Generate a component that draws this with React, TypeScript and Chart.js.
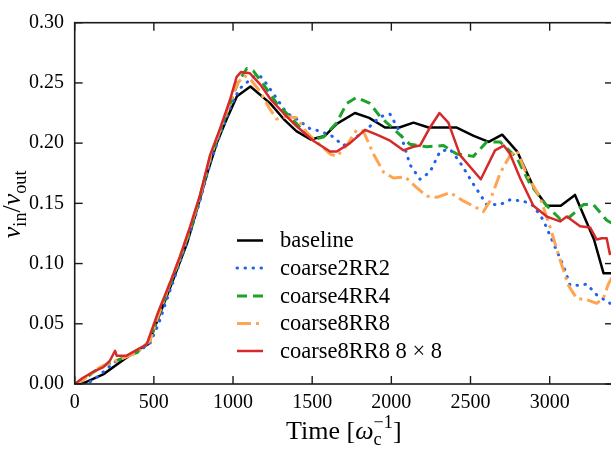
import { useEffect, useRef } from "react";
import { Chart, registerables } from "chart.js";

Chart.register(...registerables);

const SERIF = '"Liberation Serif", "Times New Roman", serif';

// Axis ticks
const X_TICKS = [0, 500, 1000, 1500, 2000, 2500, 3000];
const Y_TICKS = [0, 0.05, 0.1, 0.15, 0.2, 0.25, 0.3];
const X_MAX = 3400;
const Y_MAX = 0.3;

// Series: time [1/omega_c] and v_in / v_out
const baselineT = [0, 60, 180, 370, 465, 520, 600, 710, 770, 835, 900, 960, 1025, 1110, 1235, 1320, 1400, 1490, 1580, 1655, 1770, 1860, 1960, 2050, 2140, 2235, 2410, 2520, 2615, 2700, 2795, 2900, 2980, 3070, 3160, 3280, 3340, 3400];
const baselineV = [0, 0.001, 0.008, 0.026, 0.033, 0.052, 0.079, 0.117, 0.144, 0.174, 0.201, 0.22, 0.239, 0.247, 0.233, 0.22, 0.21, 0.203, 0.206, 0.216, 0.225, 0.221, 0.213, 0.213, 0.217, 0.213, 0.213, 0.206, 0.201, 0.207, 0.193, 0.163, 0.148, 0.148, 0.157, 0.12, 0.092, 0.092];

const coarse2T = [0, 60, 117, 265, 392, 476, 530, 600, 665, 730, 792, 855, 918, 981, 1040, 1128, 1170, 1213, 1276, 1339, 1402, 1486, 1549, 1623, 1697, 1760, 1865, 1929, 1992, 2055, 2118, 2181, 2244, 2307, 2371, 2434, 2518, 2602, 2687, 2750, 2834, 2897, 2960, 3023, 3087, 3129, 3192, 3234, 3297, 3381, 3400];
const coarse2V = [0, 0, 0.003, 0.0195, 0.026, 0.034, 0.05, 0.077, 0.101, 0.126, 0.152, 0.183, 0.207, 0.229, 0.245, 0.255, 0.256, 0.249, 0.237, 0.225, 0.22, 0.212, 0.21, 0.206, 0.198, 0.203, 0.214, 0.222, 0.224, 0.209, 0.182, 0.17, 0.176, 0.193, 0.195, 0.184, 0.166, 0.149, 0.149, 0.153, 0.152, 0.148, 0.136, 0.117, 0.098, 0.082, 0.082, 0.083, 0.074, 0.067, 0.067];

const coarse4T = [0, 50, 160, 265, 392, 476, 530, 600, 665, 730, 790, 855, 918, 980, 1030, 1087, 1128, 1191, 1276, 1360, 1444, 1507, 1570, 1655, 1718, 1781, 1865, 1929, 2013, 2118, 2224, 2329, 2413, 2518, 2602, 2687, 2792, 2876, 2982, 3066, 3129, 3213, 3276, 3360, 3400];
const coarse4V = [0, 0.003, 0.014, 0.0195, 0.026, 0.036, 0.057, 0.082, 0.104, 0.128, 0.155, 0.187, 0.21, 0.232, 0.25, 0.262, 0.26, 0.249, 0.233, 0.222, 0.21, 0.203, 0.205, 0.217, 0.233, 0.238, 0.233, 0.222, 0.212, 0.199, 0.197, 0.198, 0.191, 0.189, 0.201, 0.201, 0.188, 0.166, 0.148, 0.137, 0.139, 0.149, 0.149, 0.136, 0.133];

const coarse8T = [0, 50, 160, 265, 392, 476, 530, 600, 665, 730, 792, 855, 918, 981, 1030, 1070, 1107, 1170, 1234, 1276, 1339, 1402, 1465, 1528, 1613, 1655, 1718, 1781, 1823, 1887, 1950, 2013, 2087, 2160, 2224, 2287, 2371, 2455, 2529, 2581, 2623, 2687, 2750, 2792, 2855, 2939, 3003, 3066, 3118, 3171, 3234, 3297, 3339, 3371, 3400];
const coarse8V = [0, 0.003, 0.014, 0.0195, 0.026, 0.036, 0.058, 0.083, 0.105, 0.13, 0.156, 0.188, 0.211, 0.234, 0.25, 0.256, 0.2535, 0.243, 0.228, 0.22, 0.222, 0.221, 0.209, 0.201, 0.191, 0.189, 0.198, 0.211, 0.21, 0.191, 0.176, 0.171, 0.172, 0.163, 0.156, 0.155, 0.159, 0.152, 0.147, 0.143, 0.152, 0.175, 0.19, 0.194, 0.174, 0.155, 0.13, 0.103, 0.082, 0.071, 0.07, 0.067, 0.071, 0.083, 0.09];

const coarse8x8T = [0, 50, 117, 181, 223, 255, 265, 328, 455, 528, 602, 665, 730, 792, 855, 918, 981, 1023, 1050, 1107, 1170, 1234, 1318, 1402, 1507, 1613, 1655, 1739, 1834, 1908, 1992, 2076, 2139, 2181, 2244, 2304, 2360, 2434, 2565, 2655, 2710, 2750, 2813, 2897, 2982, 3066, 3108, 3192, 3255, 3297, 3329, 3360, 3380, 3400];
const coarse8x8V = [0, 0.005, 0.01, 0.014, 0.0195, 0.0276, 0.0235, 0.0235, 0.033, 0.06, 0.084, 0.106, 0.131, 0.157, 0.19, 0.212, 0.236, 0.255, 0.259, 0.258, 0.249, 0.237, 0.225, 0.214, 0.202, 0.193, 0.193, 0.2, 0.211, 0.207, 0.202, 0.194, 0.197, 0.198, 0.213, 0.225, 0.217, 0.19, 0.17, 0.194, 0.198, 0.191, 0.171, 0.148, 0.139, 0.135, 0.139, 0.131, 0.13, 0.12, 0.121, 0.121, 0.108, 0.11];

const SERIES_LABELS = ["baseline", "coarse2RR2", "coarse4RR4", "coarse8RR8", "coarse8RR8 8 \u00d7 8"];

type Style = { color: string; width: number; dash: number[]; cap: CanvasLineCap };
const STYLES: Style[] = [
  { color: "#000000", width: 2.5, dash: [], cap: "butt" },
  { color: "#1e62ee", width: 3, dash: [0.5, 7.5], cap: "round" },
  { color: "#1ca42a", width: 3, dash: [10, 6], cap: "butt" },
  { color: "#ffa450", width: 3, dash: [14, 5, 3, 5], cap: "butt" },
  { color: "#d62a2a", width: 2.5, dash: [], cap: "butt" },
];

const SERIES_T = [baselineT, coarse2T, coarse4T, coarse8T, coarse8x8T];
const SERIES_V = [baselineV, coarse2V, coarse4V, coarse8V, coarse8x8V];

type Piece = { text: string; italic?: boolean; scale?: number; dy?: number; stack?: boolean };

function fontOf(p: Piece, size: number) {
  return `${p.italic ? "italic " : ""}${(size * (p.scale ?? 1)).toFixed(1)}px ${SERIF}`;
}

// Draws a run of text pieces (with sub/superscripts) centred on cx.
function drawRich(ctx: CanvasRenderingContext2D, pieces: Piece[], size: number, cx: number, baseY: number) {
  let cur = 0;
  let prevStart = 0;
  const widths: number[] = [];
  for (const p of pieces) {
    ctx.font = fontOf(p, size);
    const w = ctx.measureText(p.text).width;
    widths.push(w);
    const start = p.stack ? prevStart : cur;
    cur = Math.max(cur, start + w);
    prevStart = start;
  }
  const total = cur;
  cur = cx - total / 2;
  prevStart = cur;
  ctx.textBaseline = "alphabetic";
  ctx.textAlign = "left";
  pieces.forEach((p, i) => {
    ctx.font = fontOf(p, size);
    const start = p.stack ? prevStart : cur;
    ctx.fillText(p.text, start, baseY + (p.dy ?? 0) * size);
    cur = Math.max(cur, start + widths[i]);
    prevStart = start;
  });
}

const X_TITLE: Piece[] = [
  { text: "Time [" },
  { text: "\u03c9", italic: true },
  { text: "c", scale: 0.7, dy: 0.22 },
  { text: "\u22121", scale: 0.7, dy: -0.42, stack: true },
  { text: "]" },
];

const Y_TITLE: Piece[] = [
  { text: "v", italic: true },
  { text: "in", scale: 0.7, dy: 0.22 },
  { text: "/" },
  { text: "v", italic: true },
  { text: "out", scale: 0.7, dy: 0.22 },
];

const framePlugin = {
  id: "frameTicks",
  afterDatasetsDraw(chart: any) {
    const { ctx, chartArea: a, scales } = chart;
    ctx.save();
    ctx.strokeStyle = "#1a1a1a";
    ctx.lineWidth = 1.6;
    ctx.setLineDash([]);
    ctx.strokeRect(a.left, a.top, a.right - a.left, a.bottom - a.top);
    ctx.lineWidth = 1.4;
    const seg = (x1: number, y1: number, x2: number, y2: number) => {
      ctx.beginPath();
      ctx.moveTo(x1, y1);
      ctx.lineTo(x2, y2);
      ctx.stroke();
    };
    for (const v of X_TICKS) {
      const px = scales.x.getPixelForValue(v);
      seg(px, a.bottom, px, a.bottom - 8);
      seg(px, a.top, px, a.top + 8);
    }
    for (const v of Y_TICKS) {
      const py = scales.y.getPixelForValue(v);
      seg(a.left, py, a.left + 8, py);
      seg(a.right, py, a.right - 8, py);
    }
    ctx.restore();
  },
};

const legendAndTitles = {
  id: "legendAndTitles",
  afterDraw(chart: any) {
    const { ctx, chartArea: a } = chart;
    ctx.save();
    // legend
    const rowY = [240.5, 268, 296, 323.5, 351];
    SERIES_LABELS.forEach((label, i) => {
      const s = STYLES[i];
      ctx.strokeStyle = s.color;
      ctx.lineWidth = s.width;
      ctx.lineCap = s.cap;
      ctx.setLineDash(s.dash);
      ctx.beginPath();
      ctx.moveTo(237, rowY[i]);
      ctx.lineTo(263, rowY[i]);
      ctx.stroke();
      ctx.setLineDash([]);
      ctx.fillStyle = "#000";
      ctx.font = `22.5px ${SERIF}`;
      ctx.textAlign = "left";
      ctx.textBaseline = "middle";
      ctx.fillText(label, 280, rowY[i] + 1);
    });
    ctx.fillStyle = "#000";
    // axis titles, centred on the plot area
    drawRich(ctx, X_TITLE, 26, (a.left + a.right) / 2, 439);
    ctx.translate(20, (a.top + a.bottom) / 2 + 1);
    ctx.rotate(-Math.PI / 2);
    drawRich(ctx, Y_TITLE, 26, 0, 0);
    ctx.restore();
  },
};

export default function App() {
  const ref = useRef<HTMLCanvasElement>(null);

  useEffect(() => {
    const canvas = ref.current;
    if (!canvas) return;
    const datasets = SERIES_LABELS.map((label, i) => ({
      label,
      data: SERIES_T[i].map((t, j) => ({ x: t, y: SERIES_V[i][j] })),
      borderColor: STYLES[i].color,
      backgroundColor: STYLES[i].color,
      borderWidth: STYLES[i].width,
      borderDash: STYLES[i].dash,
      borderCapStyle: STYLES[i].cap,
      borderJoinStyle: "round" as const,
      pointRadius: 0,
      tension: 0,
      fill: false,
      order: SERIES_LABELS.length - 1 - i,
    }));

    const chart = new Chart(canvas, {
      type: "line",
      data: { datasets },
      options: {
        responsive: false,
        animation: false,
        devicePixelRatio: 1,
        layout: { padding: { top: 14.7, right: 7, left: 0, bottom: 0 } },
        plugins: { legend: { display: false }, tooltip: { enabled: false } },
        scales: {
          x: {
            type: "linear",
            min: 0,
            max: X_MAX,
            grid: { display: false, drawTicks: false },
            border: { display: false },
            afterBuildTicks: (s: any) => {
              s.ticks = X_TICKS.map((v) => ({ value: v }));
            },
            afterFit: (s: any) => {
              s.height = 65;
            },
            ticks: {
              padding: 7,
              color: "#000",
              maxRotation: 0,
              autoSkip: false,
              font: { family: SERIF, size: 20 },
              callback: (v: any) => String(v),
            },
          },
          y: {
            type: "linear",
            min: 0,
            max: Y_MAX,
            grid: { display: false, drawTicks: false },
            border: { display: false },
            afterBuildTicks: (s: any) => {
              s.ticks = Y_TICKS.map((v) => ({ value: v }));
            },
            afterFit: (s: any) => {
              s.width = 74.7;
            },
            ticks: {
              padding: 10.7,
              color: "#000",
              autoSkip: false,
              font: { family: SERIF, size: 20 },
              callback: (v: any) => Number(v).toFixed(2),
            },
          },
        },
      },
      plugins: [framePlugin, legendAndTitles],
    });
    return () => chart.destroy();
  }, []);

  return (
    <div
      style={{
        position: "fixed",
        left: 0,
        top: 0,
        width: 611,
        height: 449,
        overflow: "hidden",
        background: "#fff",
      }}
    >
      <canvas ref={ref} width={620} height={449} style={{ display: "block" }} />
    </div>
  );
}
